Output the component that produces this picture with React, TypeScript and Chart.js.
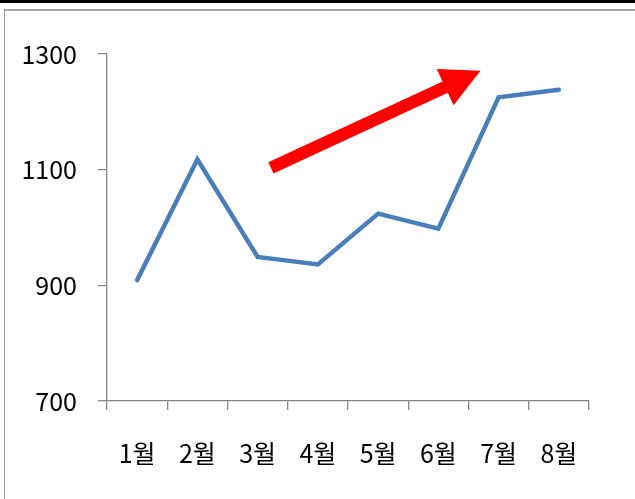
import React, { useEffect, useRef } from "react";
import { Chart, registerables } from "chart.js";

Chart.register(...registerables);

const categories: string[] = ["1월", "2월", "3월", "4월", "5월", "6월", "7월", "8월"];
const salesValues: number[] = [909, 1118, 949, 936, 1024, 998, 1225, 1238];
const yTicks: number[] = [700, 900, 1100, 1300];
// arrow annotation in data units: [category index, value]
const arrowFrom: number[] = [2.22, 1103];
const arrowTo: number[] = [5.7, 1271];

const AXIS_COLOR = "#868686";
const FONT = "'Noto Sans CJK KR', 'Noto Sans', sans-serif";

const arrowPlugin = {
  id: "trendArrow",
  afterDatasetsDraw(chart: any) {
    const { ctx, scales } = chart;
    const x = scales.x, y = scales.y;
    const x0 = x.getPixelForValue(arrowFrom[0]);
    const y0 = y.getPixelForValue(arrowFrom[1]);
    const x1 = x.getPixelForValue(arrowTo[0]);
    const y1 = y.getPixelForValue(arrowTo[1]);
    const dx = x1 - x0, dy = y1 - y0;
    const len = Math.hypot(dx, dy);
    const ux = dx / len, uy = dy / len;
    const nx = -uy, ny = ux;
    const headLen = 39;
    const headHalf = 20;
    const shaftHalf = 6.2;
    const bx = x1 - ux * headLen, by = y1 - uy * headLen;
    ctx.save();
    ctx.fillStyle = "#ff0000";
    ctx.beginPath();
    ctx.moveTo(x0 + nx * shaftHalf, y0 + ny * shaftHalf);
    ctx.lineTo(bx + nx * shaftHalf, by + ny * shaftHalf);
    ctx.lineTo(bx + nx * headHalf, by + ny * headHalf);
    ctx.lineTo(x1, y1);
    ctx.lineTo(bx - nx * headHalf, by - ny * headHalf);
    ctx.lineTo(bx - nx * shaftHalf, by - ny * shaftHalf);
    ctx.lineTo(x0 - nx * shaftHalf, y0 - ny * shaftHalf);
    ctx.closePath();
    ctx.fill();
    ctx.restore();
  },
};

export default function App() {
  const canvasRef = useRef<HTMLCanvasElement | null>(null);

  useEffect(() => {
    if (!canvasRef.current) return;
    const chart = new Chart(canvasRef.current, {
      type: "line",
      data: {
        labels: categories,
        datasets: [
          {
            data: salesValues,
            borderColor: "#4a7ebb",
            borderWidth: 4.5,
            pointRadius: 0,
            tension: 0,
            borderCapStyle: "round",
            borderJoinStyle: "miter",
            fill: false,
          },
        ],
      },
      options: {
        animation: false,
        responsive: false,
        maintainAspectRatio: false,
        layout: { padding: { top: 54, right: 46, bottom: 0, left: 0 } },
        plugins: { legend: { display: false }, tooltip: { enabled: false }, title: { display: false } },
        scales: {
          x: {
            type: "category",
            offset: true,
            grid: {
              offset: true,
              drawOnChartArea: false,
              drawTicks: true,
              tickLength: 9,
              color: AXIS_COLOR,
              lineWidth: 1.3,
            },
            border: { display: true, color: AXIS_COLOR, width: 1.3 },
            ticks: {
              color: "#000000",
              font: { family: FONT, size: 25 },
              padding: 28,
              maxRotation: 0,
              autoSkip: false,
            },
            afterFit(scale: any) {
              scale.height = 98;
            },
          },
          y: {
            min: yTicks[0],
            max: yTicks[yTicks.length - 1],
            afterBuildTicks(scale: any) {
              scale.ticks = yTicks.map((v) => ({ value: v }));
            },
            grid: {
              drawOnChartArea: false,
              drawTicks: true,
              tickLength: 9,
              color: AXIS_COLOR,
              lineWidth: 1.3,
            },
            border: { display: true, color: AXIS_COLOR, width: 1.3 },
            ticks: {
              color: "#000000",
              font: { family: FONT, size: 25 },
              padding: 21,
              callback: (v: any) => String(v),
            },
            afterFit(scale: any) {
              scale.width = 107;
            },
          },
        },
      },
      plugins: [arrowPlugin],
    });
    return () => chart.destroy();
  }, []);

  return (
    <div style={{ position: "absolute", left: 0, top: 0, width: 635, height: 499, background: "#ffffff", overflow: "hidden" }}>
      <div style={{ position: "absolute", left: 0, top: 0, width: 635, height: 3, background: "#000000" }} />
      <div style={{ position: "absolute", left: 4, top: 9, width: 631, height: 1.5, background: "#a0a0a0" }} />
      <div style={{ position: "absolute", left: 3.5, top: 9, width: 1.5, height: 490, background: "#a0a0a0" }} />
      <canvas ref={canvasRef} width={635} height={499} style={{ position: "absolute", left: 0, top: 0, width: 635, height: 499 }} />
    </div>
  );
}
